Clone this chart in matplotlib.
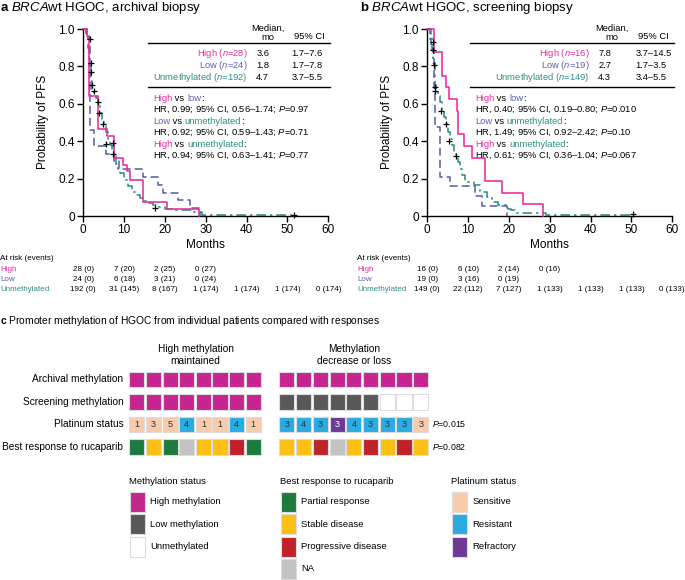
import matplotlib
matplotlib.use('Agg')
import matplotlib.pyplot as plt
import matplotlib.transforms as mtrans
from matplotlib.patches import Rectangle

plt.rcParams['font.family'] = ['Liberation Sans', 'DejaVu Sans']
plt.rcParams['mathtext.fontset'] = 'custom'
plt.rcParams['mathtext.rm'] = 'Liberation Sans'
plt.rcParams['mathtext.it'] = 'Liberation Sans:italic'
plt.rcParams['mathtext.bf'] = 'Liberation Sans:bold'

# ---- Kaplan-Meier data ----
# panel a, archival biopsy
a_high_t = [0, 1.0, 1.5, 3.6, 5.8, 7.4, 9.7, 10.7, 11.5, 14.6, 20.4, 28.4]
a_high_s = [1.0, 0.964, 0.643, 0.464, 0.429, 0.310, 0.274, 0.238, 0.190, 0.077, 0.038, 0.0]
a_low_t = [0, 0.6, 1.7, 2.5, 5.5, 7.6, 8.8, 14.7, 18.4, 19.6, 23.3, 26.2, 28.6]
a_low_s = [1.0, 0.958, 0.458, 0.375, 0.333, 0.292, 0.250, 0.208, 0.167, 0.125, 0.083, 0.042, 0.0]
a_un_t = [0, 0.8, 1.2, 1.5, 1.8, 2.2, 2.6, 3.0, 3.5, 4.0, 4.5, 5.0, 5.5, 6.0, 6.5, 7.0, 7.5,
          8.0, 8.5, 9.0, 10.0, 11.0, 12.0, 13.0, 14.0, 15.0, 16.0, 17.0, 18.0, 20.0, 22.0, 27.0, 29.0]
a_un_s = [1.0, 0.97, 0.90, 0.80, 0.72, 0.68, 0.66, 0.63, 0.60, 0.55, 0.52, 0.49, 0.45, 0.41, 0.38,
          0.35, 0.32, 0.28, 0.25, 0.23, 0.195, 0.16, 0.13, 0.11, 0.095, 0.08, 0.07, 0.06, 0.05,
          0.04, 0.03, 0.02, 0.005]
a_un_end = 51.7
a_cens_t = [1.6, 1.8, 1.8, 2.1, 2.5, 3.7, 3.9, 4.9, 5.6, 7.3, 7.3, 17.5, 51.7]
a_cens_s = [0.945, 0.816, 0.77, 0.70, 0.67, 0.61, 0.55, 0.49, 0.386, 0.39, 0.33, 0.045, 0.005]

# panel b, screening biopsy
b_high_t = [0, 1.6, 3.5, 4.6, 5.2, 7.2, 7.6, 9.1, 10.9, 14.2, 18.3, 23.5, 28.4]
b_high_s = [1.0, 0.875, 0.75, 0.6875, 0.625, 0.5625, 0.4375, 0.375, 0.3125, 0.1875, 0.125, 0.0625, 0.0]
b_low_t = [0, 0.6, 1.0, 1.7, 1.9, 3.1, 5.5, 11.7, 13.3, 19.6]
b_low_s = [1.0, 0.947, 0.895, 0.684, 0.474, 0.211, 0.158, 0.105, 0.053, 0.0]
b_un_t = [0, 0.8, 1.2, 1.5, 1.8, 2.2, 2.6, 3.0, 3.5, 4.0, 4.6, 5.0, 5.5, 6.0, 6.5, 7.0, 7.5,
          8.0, 8.5, 9.2, 11.5, 13.0, 14.5, 15.8, 17.3, 19.8, 20.5, 21.5, 29.0]
b_un_s = [1.0, 0.96, 0.90, 0.82, 0.70, 0.67, 0.64, 0.61, 0.56, 0.53, 0.49, 0.45, 0.41, 0.38,
          0.35, 0.32, 0.29, 0.25, 0.22, 0.18, 0.165, 0.13, 0.10, 0.075, 0.06, 0.04, 0.03,
          0.015, 0.006]
b_un_end = 50.5
b_cens_t = [1.3, 1.4, 1.6, 1.8, 2.0, 3.4, 4.6, 5.4, 7.0, 50.3]
b_cens_s = [0.93, 0.89, 0.81, 0.69, 0.67, 0.56, 0.49, 0.40, 0.32, 0.01]

groups = ['High', 'Low', 'Unmethylated']
a_n = [28, 24, 192]
a_med = ['3.6', '1.8', '4.7']
a_ci = ['1.7–7.6', '1.7–7.8', '3.7–5.5']
a_hr = ['HR, 0.99; 95% CI, 0.56–1.74; $P$=0.97',
        'HR, 0.92; 95% CI, 0.59–1.43; $P$=0.71',
        'HR, 0.94; 95% CI, 0.63–1.41; $P$=0.77']
b_n = [16, 19, 149]
b_med = ['7.8', '2.7', '4.3']
b_ci = ['3.7–14.5', '1.7–3.5', '3.4–5.5']
b_hr = ['HR, 0.40; 95% CI, 0.19–0.80; $P$=0.010',
        'HR, 1.49; 95% CI, 0.92–2.42; $P$=0.10',
        'HR, 0.61; 95% CI, 0.36–1.04; $P$=0.067']
comparisons = [(0, 1), (1, 2), (0, 2)]

risk_times = [0, 10, 20, 30, 40, 50, 60]
a_risk = [['28 (0)', '7 (20)', '2 (25)', '0 (27)'],
          ['24 (0)', '6 (18)', '3 (21)', '0 (24)'],
          ['192 (0)', '31 (145)', '8 (167)', '1 (174)', '1 (174)', '1 (174)', '0 (174)']]
b_risk = [['16 (0)', '6 (10)', '2 (14)', '0 (16)'],
          ['19 (0)', '3 (16)', '0 (19)'],
          ['149 (0)', '22 (112)', '7 (127)', '1 (133)', '1 (133)', '1 (133)', '0 (133)']]

# ---- panel c data ----
g1_archival = ['High', 'High', 'High', 'High', 'High', 'High', 'High', 'High']
g1_screening = ['High', 'High', 'High', 'High', 'High', 'High', 'High', 'High']
g1_platinum = ['S', 'S', 'S', 'R', 'S', 'S', 'R', 'S']
g1_lines = [1, 3, 5, 4, 1, 1, 4, 1]
g1_response = ['PR', 'SD', 'PR', 'NA', 'SD', 'SD', 'PD', 'PR']
g2_archival = ['High', 'High', 'High', 'High', 'High', 'High', 'High', 'High', 'High']
g2_screening = ['Low', 'Low', 'Low', 'Low', 'Low', 'Low', 'Un', 'Un', 'Un']
g2_platinum = ['R', 'R', 'R', 'Ref', 'R', 'R', 'R', 'R', 'S']
g2_lines = [3, 4, 3, 3, 4, 3, 3, 3, 3]
g2_response = ['SD', 'SD', 'PD', 'NA', 'SD', 'PD', 'SD', 'PD', 'SD']
row_labels = ['Archival methylation', 'Screening methylation', 'Platinum status',
              'Best response to rucaparib']
p_values = ['', '', '$P$=0.015', '$P$=0.082']

meth_col = {'High': '#c4258f', 'Low': '#585858', 'Un': '#ffffff'}
plat_col = {'S': '#f8cbad', 'R': '#2aabe2', 'Ref': '#6e3996'}
resp_col = {'PR': '#1b7b3c', 'SD': '#fdbf12', 'PD': '#c1222a', 'NA': '#c3c3c3'}
meth_leg = [('High', 'High methylation'), ('Low', 'Low methylation'), ('Un', 'Unmethylated')]
resp_leg = [('PR', 'Partial response'), ('SD', 'Stable disease'),
            ('PD', 'Progressive disease'), ('NA', 'NA')]
plat_leg = [('S', 'Sensitive'), ('R', 'Resistant'), ('Ref', 'Refractory')]

C_HIGH = '#ec2a9b'
C_LOW = '#5a60b0'
C_UN = '#2e8e80'
grp_cols = [C_HIGH, C_LOW, C_UN]
TS = 6.75  # table text size

fig = plt.figure(figsize=(6.85, 5.8), dpi=100)
ov = fig.add_axes([0, 0, 1, 1])
ov.set_xlim(0, 685)
ov.set_ylim(580, 0)
ov.axis('off')


def px_axes(l, t, w, h):
    return fig.add_axes([l / 685, 1 - (t + h) / 580, w / 685, h / 580])


def chain(x, y, parts, size):
    # words in different colours on one line
    t = ov.text(x, y, parts[0][0], color=parts[0][1], fontsize=size, va='center', ha='left')
    for s, c in parts[1:]:
        t = ov.annotate(s, xy=(1, 0), xycoords=t, va='bottom', ha='left', color=c, fontsize=size)


def km_panel(x0, title, curves, cens_t, cens_s, n, med, ci, hr, risk, lab_x, title_x):
    ax = px_axes(x0, 29, 245, 187)
    styles = {0: '-', 1: (0, (5, 2.5)), 2: (0, (6, 2.5, 1.5, 2.5))}
    for i in [2, 1, 0]:
        t, s, end = curves[i]
        ax.step(list(t) + [end], list(s) + [s[-1]], where='post', color=grp_cols[i],
                lw=1.15, linestyle=styles[i], clip_on=False, zorder=3 - i)
    ax.plot(cens_t, cens_s, '+', color='black', ms=4.5, mew=0.9, clip_on=False, zorder=5)
    ax.set_xlim(0, 60)
    ax.set_ylim(0, 1.0)
    ax.set_xticks([0, 10, 20, 30, 40, 50, 60])
    ax.set_yticks([0, 0.2, 0.4, 0.6, 0.8, 1.0])
    ax.set_yticklabels(['0', '0.2', '0.4', '0.6', '0.8', '1.0'])
    for sp in ['top', 'right']:
        ax.spines[sp].set_visible(False)
    for sp in ['left', 'bottom']:
        ax.spines[sp].set_linewidth(1.0)
    ax.tick_params(direction='out', length=4, width=1.0, labelsize=8.5, pad=2)
    ax.patch.set_alpha(0)

    ov.text(x0 - 40, 122, 'Probability of PFS', rotation=90, fontsize=8.5, ha='center', va='center')
    ov.text(x0 + 122.5, 245, 'Months', fontsize=8.5, ha='center', va='center')
    ov.text(title_x, 8, title, fontsize=9.5, ha='left', va='center')

    # median table
    right = x0 + 245
    ov.text(x0 + 185, 33, 'Median,\nmo', fontsize=TS, ha='center', va='center', linespacing=1.0)
    ov.text(right - 19, 36.5, '95% CI', fontsize=TS, ha='center', va='center')
    tl = x0 + (65 if x0 < 200 else 43)
    ov.plot([tl, right + 2], [43.3, 43.3], color='black', lw=1.0)
    ov.plot([tl, right + 2], [87.3, 87.3], color='black', lw=1.0)
    name_r = x0 + (164 if x0 < 200 else 162)
    for i in range(3):
        y = 53.5 + 12 * i
        ov.text(name_r, y, '%s ($n$=%d)' % (groups[i], n[i]), color=grp_cols[i], fontsize=TS,
                ha='right', va='center')
        ov.text(name_r + 9, y, med[i], fontsize=TS, ha='left', va='center')
        ov.text(right - 37, y, ci[i], fontsize=TS, ha='left', va='center')
    cx = tl + 4.5
    for k, (i, j) in enumerate(comparisons):
        y = 98.5 + 22.8 * k
        chain(cx, y, [(groups[i], grp_cols[i]), (' vs ', 'black'),
                      (groups[j].lower(), grp_cols[j]), (':', 'black')], TS)
        ov.text(cx, y + 11.3, hr[k], fontsize=TS, ha='left', va='center')

    # at risk table
    tr = mtrans.blended_transform_factory(ax.transData, ov.transData)
    ov.text(lab_x, 259, 'At risk (events)', fontsize=5.8, ha='left', va='center')
    for i in range(3):
        y = 269.3 + 10 * i
        ov.text(lab_x, y, groups[i], color=grp_cols[i], fontsize=5.8, ha='left', va='center')
        for k, val in enumerate(risk[i]):
            ax.text(risk_times[k], y, val, transform=tr, fontsize=5.8, ha='center',
                    va='center', clip_on=False)
    return ax


km_panel(83.3, r'$\bf{a}$ $BRCA$wt HGOC, archival biopsy',
         [(a_high_t, a_high_s, a_high_t[-1]), (a_low_t, a_low_s, a_low_t[-1]),
          (a_un_t, a_un_s, a_un_end)],
         a_cens_t, a_cens_s, a_n, a_med, a_ci, a_hr, a_risk, 0, 0)
km_panel(427.3, r'$\bf{b}$ $BRCA$wt HGOC, screening biopsy',
         [(b_high_t, b_high_s, b_high_t[-1]), (b_low_t, b_low_s, b_low_t[-1]),
          (b_un_t, b_un_s, b_un_end)],
         b_cens_t, b_cens_s, b_n, b_med, b_ci, b_hr, b_risk, 357, 360.5)

# ---- panel c ----
ov.text(0, 321, r'$\bf{c}$ Promoter methylation of HGOC from individual patients compared with responses',
        fontsize=7.4, ha='left', va='center')
ov.text(195.7, 355, 'High methylation\nmaintained', fontsize=7.3, ha='center', va='center',
        linespacing=1.15)
ov.text(354.5, 355, 'Methylation\ndecrease or loss', fontsize=7.3, ha='center', va='center',
        linespacing=1.15)

row_top = 371.7
row_pitch = 22.4
cell_w = 15.2
cell_h = 15.6
EDGE = '#dcdcdc'
for x_start, pitch, rows, nums in [(129.3, 16.63, [g1_archival, g1_screening, g1_platinum, g1_response], g1_lines),
                                   (279.3, 16.74, [g2_archival, g2_screening, g2_platinum, g2_response], g2_lines)]:
    for r, vals in enumerate(rows):
        cmap = meth_col if r < 2 else (plat_col if r == 2 else resp_col)
        y = row_top + r * row_pitch
        for k, v in enumerate(vals):
            x = x_start + k * pitch
            ov.add_patch(Rectangle((x, y), cell_w, cell_h, facecolor=cmap[v], edgecolor=EDGE, lw=0.8))
            if r == 2:
                ov.text(x + cell_w / 2, y + cell_h / 2 + 0.3, str(nums[k]), fontsize=6.6,
                        color='white' if v == 'Ref' else '#333333', ha='center', va='center')

for r, lab in enumerate(row_labels):
    yc = row_top + r * row_pitch + cell_h / 2
    ov.text(123.3, yc, lab, fontsize=7.3, ha='right', va='center')
    if p_values[r]:
        ov.text(432.5, yc, p_values[r], fontsize=6.3, ha='left', va='center')


def legend(x, title, items, cmap):
    ov.text(x - 0.5, 481.7, title, fontsize=6.8, ha='left', va='center')
    for k, (key, lab) in enumerate(items):
        y = 491.7 + k * 22.4
        ov.add_patch(Rectangle((x, y), 15, 20, facecolor=cmap[key], edgecolor=EDGE, lw=0.8))
        ov.text(x + 20.5, y + 10, lab, fontsize=6.8, ha='left', va='center')


legend(130, 'Methylation status', meth_leg, meth_col)
legend(281, 'Best response to rucaparib', resp_leg, resp_col)
legend(452, 'Platinum status', plat_leg, plat_col)

fig.savefig('out.png', dpi=100)
